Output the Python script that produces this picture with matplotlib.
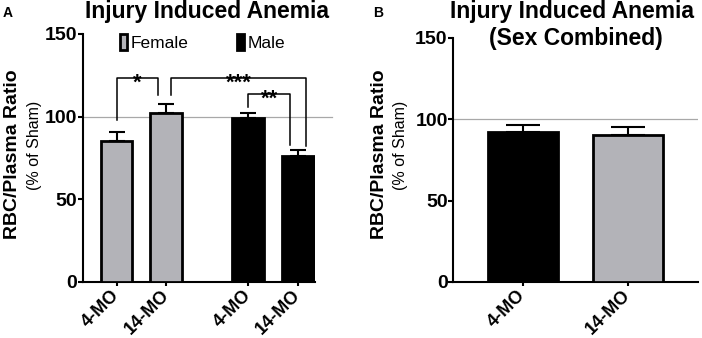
import matplotlib
matplotlib.use("Agg")
import matplotlib.pyplot as plt
from matplotlib.patches import Patch
import matplotlib.transforms as mtransforms

plt.rcParams['font.family'] = ['Liberation Sans', 'DejaVu Sans']

# ---- data ----
labels_A = ['4-MO', '14-MO', '4-MO', '14-MO']
sex_A = ['Female', 'Female', 'Male', 'Male']
values_A = [85.0, 102.5, 99.0, 76.5]
errors_A = [6.0, 5.0, 3.2, 3.5]

labels_B = ['4-MO', '14-MO']
values_B = [92.4, 90.3]
errors_B = [3.9, 5.2]

sig_labels = ['*', '***', '**']

GRAY = '#b3b3b8'
BLACK = '#000000'
sex_color = {'Female': GRAY, 'Male': BLACK}

fig = plt.figure(figsize=(7.02, 3.38), dpi=100)
H = 338.0
W = 702.0

def style_axes(ax):
    for s in ['top', 'right']:
        ax.spines[s].set_visible(False)
    for s in ['left', 'bottom']:
        ax.spines[s].set_linewidth(1.5)
    ax.set_ylim(0, 150)
    ax.set_yticks([0, 50, 100, 150])
    ax.tick_params(axis='y', length=3.5, width=1.5, pad=0.5, labelsize=14)
    ax.tick_params(axis='x', length=3.2, width=1.5, pad=1, labelsize=13)
    for t in ax.get_yticklabels():
        t.set_fontweight('bold')

def shift_xlabels(ax, dx_px, dy_px):
    off = mtransforms.ScaledTranslation(dx_px / 100.0, dy_px / 100.0, fig.dpi_scale_trans)
    for t in ax.get_xticklabels():
        t.set_transform(t.get_transform() + off)

# ---------- Panel A ----------
axA = fig.add_axes([83 / W, 1 - 282 / H, (315 - 83) / W, (282 - 34) / H])
posA = [0, 1, 2.65, 3.65]
colsA = [sex_color[s] for s in sex_A]
axA.bar(posA, values_A, width=0.64, color=colsA, edgecolor='black', linewidth=2.0, zorder=3)
axA.errorbar(posA, values_A, yerr=[[0] * len(errors_A), errors_A], fmt='none',
             ecolor='black', elinewidth=1.5, capsize=6, capthick=1.5, zorder=2)
axA.set_xlim(-0.675, 3.99)
axA.plot([-0.675, 4.34], [100, 100], color='#a8a8a8', lw=0.9, zorder=1, clip_on=False)
style_axes(axA)
axA.set_xticks(posA)
axA.set_xticklabels(labels_A, rotation=45, ha='right', rotation_mode='anchor', fontweight='bold')
shift_xlabels(axA, -6, 1.5)

brackets = [
    (0.0, 0.84, 123.3, 98.0, 113.3),
    (1.1, 3.81, 123.3, 113.3, 82.5),
    (2.65, 3.49, 113.7, 105.6, 83.0),
]
for (x1, x2, yt, yl, yr), lab in zip(brackets, sig_labels):
    axA.plot([x1, x1, x2, x2], [yl, yt, yt, yr], color='black', lw=1.1, clip_on=False, zorder=4)
    axA.annotate(lab, xy=((x1 + x2) / 2, yt), xytext=(0, -7.5), textcoords='offset points',
                 ha='center', va='baseline', fontsize=16, fontweight='bold')

handles = [Patch(facecolor=GRAY, edgecolor='black', linewidth=2.0),
           Patch(facecolor=BLACK, edgecolor='black', linewidth=2.0)]
axA.legend(handles, ['Female', 'Male'], ncol=2, loc='upper left', bbox_to_anchor=(0.16, 1.0),
           frameon=False, fontsize=12.5, handlelength=0.4, handleheight=1.0,
           handletextpad=0.2, columnspacing=2.8, borderpad=0, borderaxespad=0)

# ---------- Panel B ----------
axB = fig.add_axes([453.3 / W, 1 - 282 / H, (698 - 453.3) / W, (282 - 38) / H])
posB = [0, 1]
axB.bar(posB, values_B, width=0.67, color=[BLACK, GRAY], edgecolor='black', linewidth=2.0, zorder=3)
axB.errorbar(posB, values_B, yerr=[[0] * len(errors_B), errors_B], fmt='none',
             ecolor='black', elinewidth=1.5, capsize=12.5, capthick=1.5, zorder=2)
axB.set_xlim(-0.664, 1.67)
axB.axhline(100, color='#a8a8a8', lw=0.9, zorder=1)
style_axes(axB)
axB.set_xticks(posB)
axB.set_xticklabels(labels_B, rotation=45, ha='right', rotation_mode='anchor', fontweight='bold')
shift_xlabels(axB, -6, 1.5)

# ---------- texts ----------
fig.text(207 / W, 1 - 18 / H, 'Injury Induced Anemia', ha='center', va='baseline',
         fontsize=16.5, fontweight='bold')
fig.text(572 / W, 1 - 18 / H, 'Injury Induced Anemia', ha='center', va='baseline',
         fontsize=16.5, fontweight='bold')
fig.text(576 / W, 1 - 45 / H, '(Sex Combined)', ha='center', va='baseline',
         fontsize=16.5, fontweight='bold')
fig.text(3 / W, 1 - 17 / H, 'A', ha='left', va='baseline', fontsize=10, fontweight='bold')
fig.text(373 / W, 1 - 17 / H, 'B', ha='left', va='baseline', fontsize=10, fontweight='bold')

for xm, xs in [(13, 34.5), (380, 400)]:
    fig.text(xm / W, 1 - 154 / H, 'RBC/Plasma Ratio', rotation=90, ha='center', va='center',
             fontsize=14, fontweight='bold')
    fig.text(xs / W, 1 - 145 / H, '(% of Sham)', rotation=90, ha='center', va='center',
             fontsize=11.5)

fig.savefig('out.png', dpi=100)
